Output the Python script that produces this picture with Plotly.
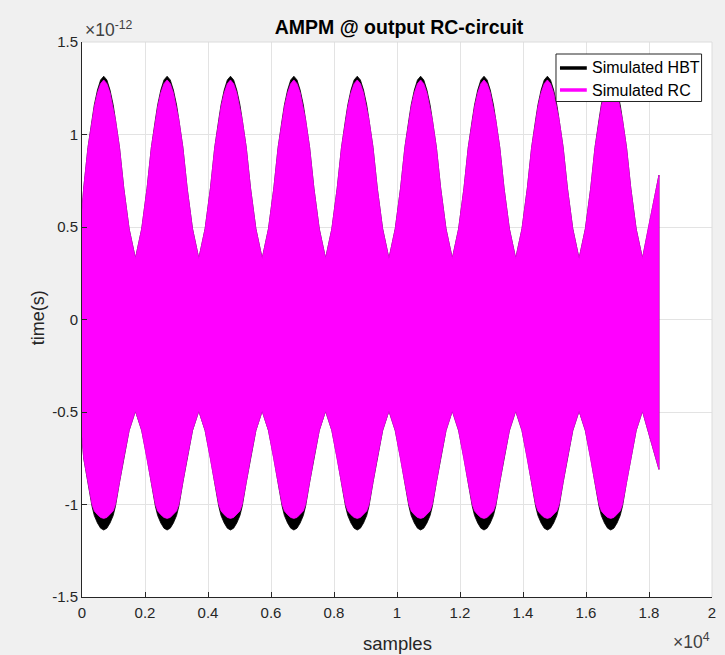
import plotly.graph_objects as go

# ---------------- data ----------------
# sample positions of each envelope cycle centre (upper maxima / lower minima)
cycle_peaks = [690, 2702, 4714, 6726, 8738, 10750, 12762, 14774, 16786]

# one-cycle envelope profile: offsets (samples) from the cycle centre
profile_offsets = [-1006, -806, -636, -500, -372, -300, -200, -100, 0,
                   100, 200, 300, 372, 500, 636, 806]

# envelope values (x 1e-12) at those offsets
rc_upper_profile = [0.33, 0.49, 0.71, 0.93, 1.08, 1.15, 1.225, 1.275, 1.295,
                    1.275, 1.225, 1.15, 1.08, 0.93, 0.71, 0.49]
hbt_upper_profile = [0.33, 0.49, 0.71, 0.93, 1.08, 1.16, 1.24, 1.295, 1.315,
                     1.295, 1.24, 1.16, 1.08, 0.93, 0.71, 0.49]
rc_lower_profile = [-0.495, -0.60, -0.75, -0.88, -1.00, -1.035, -1.055, -1.07, -1.075,
                    -1.07, -1.055, -1.035, -1.00, -0.88, -0.75, -0.60]
hbt_lower_profile = [-0.495, -0.60, -0.75, -0.88, -1.01, -1.06, -1.10, -1.128, -1.138,
                     -1.128, -1.10, -1.06, -1.01, -0.88, -0.75, -0.60]

# start of the record (samples, value x 1e-12)
upper_head_x = [0]
upper_head = [0.59]
lower_head_x = [0]
lower_head = [-0.635]

# end of the record
upper_tail_x = [17792, 17985, 18316]
upper_tail = [0.33, 0.50, 0.78]
lower_tail_x = [17792, 18055, 18316]
lower_tail = [-0.495, -0.66, -0.81]

# axis ticks
x_tickvals = [0, 2000, 4000, 6000, 8000, 10000, 12000, 14000, 16000, 18000, 20000]
x_ticktext = ["0", "0.2", "0.4", "0.6", "0.8", "1", "1.2", "1.4", "1.6", "1.8", "2"]
y_tickvals = [-1.5, -1, -0.5, 0, 0.5, 1, 1.5]
y_ticktext = ["-1.5", "-1", "-0.5", "0", "0.5", "1", "1.5"]

series_names = ["Simulated HBT", "Simulated RC"]
series_colors = ["#000000", "#ff00ff"]


def envelope(head_x, head_v, profile, tail_x, tail_v):
    xs = list(head_x)
    vs = list(head_v)
    for p in cycle_peaks:
        for off, v in zip(profile_offsets, profile):
            x = p + off
            if head_x[-1] < x < tail_x[0]:
                xs.append(x)
                vs.append(v)
    xs += tail_x
    vs += tail_v
    return xs, vs


def band(upper_profile, lower_profile):
    ux, uv = envelope(upper_head_x, upper_head, upper_profile, upper_tail_x, upper_tail)
    lx, lv = envelope(lower_head_x, lower_head, lower_profile, lower_tail_x, lower_tail)
    return ux + lx[::-1], uv + lv[::-1]


FONT = "Liberation Sans, Arial, Helvetica, sans-serif"
L, R, T, B = 82, 9, 42, 58
W, H = 725, 655
PW, PH = W - L - R, H - T - B


def px_x(px):  # figure pixel -> paper x
    return (px - L) / PW


def px_y(py):  # figure pixel -> paper y
    return (H - B - py) / PH


fig = go.Figure()

bands = [band(hbt_upper_profile, hbt_lower_profile), band(rc_upper_profile, rc_lower_profile)]
for (bx, by), name, col in zip(bands, series_names, series_colors):
    fig.add_trace(go.Scatter(x=bx, y=by, mode="lines", fill="toself", fillcolor=col,
                             line=dict(color=col, width=0.8), showlegend=False,
                             hoverinfo="skip", name=name))

axis_common = dict(
    showgrid=True, gridcolor="#e3e3e3", gridwidth=1, zeroline=False,
    showline=True, linecolor="#262626", linewidth=1,
    ticks="inside", ticklen=5, tickcolor="#262626",
    tickfont=dict(family=FONT, size=15, color="#262626"),
)

fig.update_layout(
    width=W, height=H,
    margin=dict(l=L, r=R, t=T, b=B),
    paper_bgcolor="#f0f0f0", plot_bgcolor="#ffffff",
    font=dict(family=FONT, color="#262626"),
    title=dict(text="<b>AMPM @ output RC-circuit</b>", x=(L + PW / 2) / W, xanchor="center",
               y=1 - 27 / H, yanchor="middle", font=dict(family=FONT, size=19.5, color="#000000")),
    xaxis=dict(range=[0, 20000], tickvals=x_tickvals, ticktext=x_ticktext,
               ticklabelstandoff=2, **axis_common),
    yaxis=dict(range=[-1.5, 1.5], tickvals=y_tickvals, ticktext=y_ticktext, **axis_common),
    showlegend=False,
)

# light top / right box edges
fig.add_shape(type="line", xref="paper", yref="paper", x0=0, x1=1, y0=1, y1=1,
              line=dict(color="#dcdcdc", width=1))
fig.add_shape(type="line", xref="paper", yref="paper", x0=1, x1=1, y0=0, y1=1,
              line=dict(color="#dcdcdc", width=1))

# legend box (drawn like the reference legend)
fig.add_shape(type="rect", xref="paper", yref="paper",
              x0=px_x(559), x1=px_x(705.5), y0=px_y(101.5), y1=px_y(54),
              fillcolor="#ffffff", line=dict(color="#262626", width=1), layer="above")
for i, (name, col) in enumerate(zip(series_names, series_colors)):
    yy = 68 + 22 * i
    fig.add_shape(type="line", xref="paper", yref="paper",
                  x0=px_x(563), x1=px_x(590), y0=px_y(yy), y1=px_y(yy),
                  line=dict(color=col, width=3.5), layer="above")
    fig.add_annotation(text=name, xref="paper", yref="paper", x=px_x(593), y=px_y(yy),
                       xanchor="left", yanchor="middle", showarrow=False,
                       font=dict(family=FONT, size=16, color="#000000"))

# axis labels and exponent labels
fig.add_annotation(text="samples", xref="paper", yref="paper", x=0.5, y=px_y(643),
                   xanchor="center", yanchor="middle", showarrow=False,
                   font=dict(family=FONT, size=18.5, color="#262626"))
fig.add_annotation(text="time(s)", xref="paper", yref="paper", x=px_x(38), y=px_y(318),
                   xanchor="center", yanchor="middle", textangle=-90, showarrow=False,
                   font=dict(family=FONT, size=18, color="#262626"))
fig.add_annotation(text="×10<sup>-12</sup>", xref="paper", yref="paper", x=px_x(83), y=px_y(42),
                   xanchor="left", yanchor="bottom", showarrow=False,
                   font=dict(family=FONT, size=17.5, color="#404040"))
fig.add_annotation(text="×10<sup>4</sup>", xref="paper", yref="paper", x=px_x(716), y=px_y(654),
                   xanchor="right", yanchor="bottom", showarrow=False,
                   font=dict(family=FONT, size=17.5, color="#404040"))

fig.write_html("out.html")
